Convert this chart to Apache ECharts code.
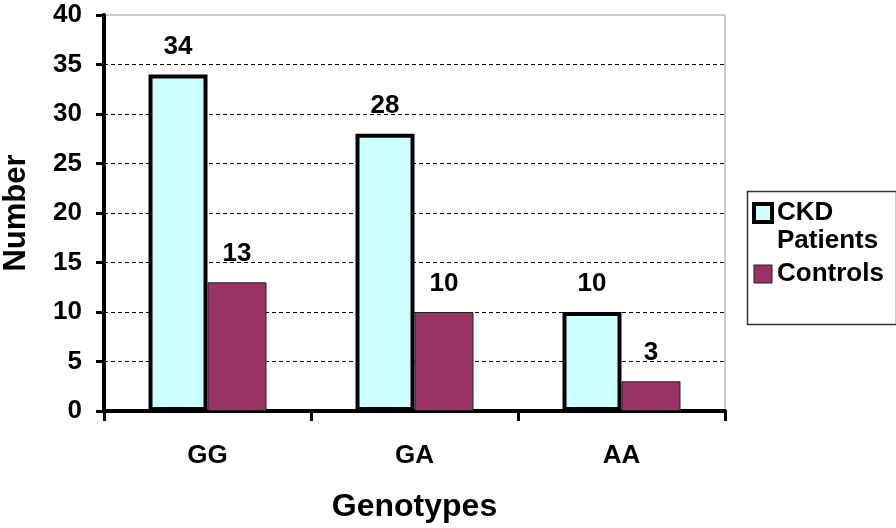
<!DOCTYPE html>
<html>
<head>
<meta charset="utf-8">
<script src="https://cdn.jsdelivr.net/npm/echarts@6/dist/echarts.min.js"></script>
<style>
html,body{margin:0;padding:0;background:#fff;}
#chart{width:896px;height:528px;}
</style>
</head>
<body>
<div id="chart"></div>
<script>
var categories = ['GG', 'GA', 'AA'];
var ckdPatients = [34, 28, 10];
var controls = [13, 10, 3];
var yTicks = [0, 5, 10, 15, 20, 25, 30, 35, 40];

var FONT = '"Liberation Sans", Arial, sans-serif';
var chart = echarts.init(document.getElementById('chart'), null, {renderer: 'canvas'});

var option = {
  backgroundColor: '#fff',
  animation: false,
  grid: {
    left: 104, right: 171, top: 15, bottom: 117,
    containLabel: false,
    outerBoundsMode: 'none',
    show: true, borderColor: '#999', borderWidth: 1, backgroundColor: '#fff'
  },
  legend: {
    orient: 'vertical',
    left: 752,
    top: 171,
    padding: 0,
    itemGap: 5,
    itemWidth: 18,
    itemHeight: 18,
    icon: 'rect',
    textStyle: { fontFamily: FONT, fontWeight: 'bold', fontSize: 26, color: '#000', lineHeight: 28 },
    data: [
      { name: 'CKD Patients', itemStyle: { borderColor: '#000', borderWidth: 4 } },
      { name: 'Controls', itemStyle: { borderColor: '#222', borderWidth: 1 } }
    ],
    formatter: function (n) { return n === 'CKD Patients' ? '\nCKD\nPatients' : n; }
  },
  graphic: [{
    type: 'rect', left: 745, top: 189, silent: true,
    shape: { width: 149, height: 133 },
    style: { fill: 'none', stroke: '#333', lineWidth: 1.5 }
  }],
  xAxis: {
    type: 'category',
    data: categories,
    name: 'Genotypes',
    nameLocation: 'middle',
    nameGap: 80,
    nameTextStyle: { fontFamily: FONT, fontWeight: 'bold', fontSize: 32, color: '#000' },
    axisLine: { lineStyle: { color: '#000', width: 4 } },
    axisTick: { show: true, length: 10, lineStyle: { color: '#000', width: 3 } },
    axisLabel: { fontFamily: FONT, fontWeight: 'bold', fontSize: 26, color: '#000', margin: 32 },
    splitLine: { show: false }
  },
  yAxis: {
    type: 'value',
    min: yTicks[0],
    max: yTicks[yTicks.length - 1],
    interval: yTicks[1] - yTicks[0],
    name: 'Number',
    nameLocation: 'middle',
    nameGap: 72,
    nameTextStyle: { fontFamily: FONT, fontWeight: 'bold', fontSize: 31, color: '#000' },
    axisLine: { show: true, lineStyle: { color: '#000', width: 4 } },
    axisTick: { show: true, length: 8, lineStyle: { color: '#000', width: 3 } },
    axisLabel: { fontFamily: FONT, fontWeight: 'bold', fontSize: 26, color: '#000', margin: 22 },
    splitLine: {
      show: true, showMinLine: false, showMaxLine: false,
      lineStyle: { color: '#000', width: 1, type: [4, 3] }
    }
  },
  series: [
    {
      name: 'CKD Patients',
      type: 'bar',
      data: ckdPatients,
      barGap: '0%',
      barCategoryGap: '43%',
      itemStyle: { color: '#CCFFFF', borderColor: '#000', borderWidth: 4 },
      label: { show: true, position: 'top', distance: 15, fontFamily: FONT, fontWeight: 'bold', fontSize: 26, color: '#000' }
    },
    {
      name: 'Controls',
      type: 'bar',
      data: controls,
      itemStyle: { color: '#993366', borderColor: '#222', borderWidth: 1 },
      label: { show: true, position: 'top', distance: 15, fontFamily: FONT, fontWeight: 'bold', fontSize: 26, color: '#000' }
    }
  ]
};
chart.setOption(option);
</script>
</body>
</html>
